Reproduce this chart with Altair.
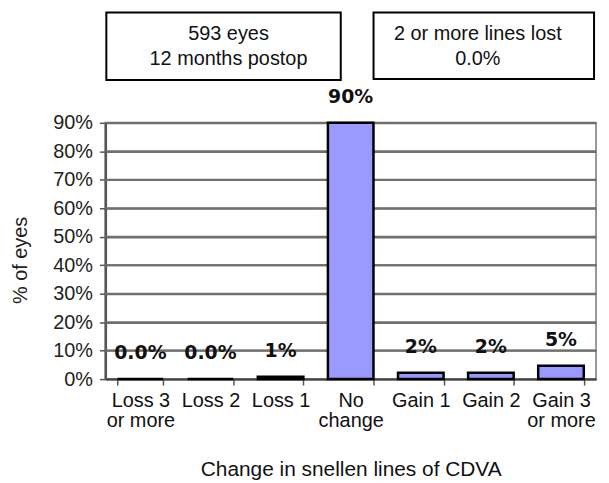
import altair as alt
import pandas as pd

categories = ["Loss 3|or more", "Loss 2", "Loss 1", "No|change", "Gain 1", "Gain 2", "Gain 3|or more"]
values = [0.0, 0.0, 0.8, 90.0, 2.2, 2.2, 4.7]
value_labels = ["0.0%", "0.0%", "1%", "90%", "2%", "2%", "5%"]
y_ticks = [0, 10, 20, 30, 40, 50, 60, 70, 80, 90]
box_texts = ["593 eyes\n12 months postop", "2 or more lines lost\n0.0%"]

df = pd.DataFrame({"cat": categories, "val": values, "lab": value_labels})
grid_df = pd.DataFrame({"g": y_ticks[1:]})

FONT = "Liberation Sans"
FS = 20
W, H = 494, 258

x_enc = alt.X(
    "cat:N",
    sort=categories,
    scale=alt.Scale(paddingInner=0.35, paddingOuter=0.175),
    axis=alt.Axis(
        title="Change in snellen lines of CDVA",
        labelExpr="split(datum.label, '|')",
        labelAngle=0,
        labelFont=FONT,
        labelFontSize=FS,
        labelColor="#111",
        labelLineHeight=20,
        labelPadding=6,
        labelBaseline="top",
        tickBand="extent",
        tickSize=6,
        tickColor="#555",
        tickWidth=1.5,
        domainColor="#444",
        domainWidth=2,
        titleFont=FONT,
        titleFontSize=21,
        titleFontWeight="normal",
        titleColor="#111",
        titleY=91,
        titleBaseline="middle",
    ),
)

y_axis = alt.Axis(
    title="% of eyes",
    values=y_ticks,
    labelExpr="datum.value + '%'",
    labelOverlap=False,
    labelFlush=False,
    labelFont=FONT,
    labelFontSize=FS,
    labelColor="#222",
    labelPadding=7,
    tickSize=6,
    tickColor="#555",
    tickWidth=1.5,
    domainColor="#555",
    domainWidth=2.5,
    grid=True,
    gridColor="#6f6f6f",
    gridWidth=2,
    gridOpacity=1,
    titleFont=FONT,
    titleFontSize=FS,
    titleFontWeight="normal",
    titleColor="#222",
    titleX=-85,
    titleY=138,
    titleAngle=-90,
    titleAlign="center",
    titleBaseline="middle",
)
y_scale = alt.Scale(domain=[0, 90], nice=False)
y_enc = alt.Y("val:Q", scale=y_scale, axis=y_axis)

grid = alt.Chart(grid_df).mark_rule(color="#6f6f6f", strokeWidth=2, opacity=1).encode(
    y=alt.Y("g:Q", scale=y_scale, axis=y_axis),
    x=alt.value(0),
    x2=alt.value(W),
)

bars = alt.Chart(df).mark_bar(
    color="#9999FF", stroke="black", strokeWidth=2.5
).encode(x=x_enc, y=y_enc)

labels = alt.Chart(df).mark_text(
    font="DejaVu Sans", fontWeight="bold", fontSize=19, baseline="middle", dy=-26, color="#111"
).encode(x=x_enc, y=y_enc, text="lab:N")

box_df = pd.DataFrame({"t": ["box"]})
box1 = alt.Chart(box_df).mark_rect(fill="white", stroke="black", strokeWidth=2).encode(
    x=alt.value(1), x2=alt.value(237), y=alt.value(-111), y2=alt.value(-43)
)
box2 = alt.Chart(box_df).mark_rect(fill="white", stroke="black", strokeWidth=2).encode(
    x=alt.value(270), x2=alt.value(492), y=alt.value(-111), y2=alt.value(-44)
)
txt1 = alt.Chart(box_df).mark_text(
    font=FONT, fontSize=FS, lineBreak="\n", lineHeight=25, baseline="middle", color="#111"
).encode(x=alt.value(124), y=alt.value(-89), text=alt.value(box_texts[0]))
txt2 = alt.Chart(box_df).mark_text(
    font=FONT, fontSize=FS, lineBreak="\n", lineHeight=25, baseline="middle", color="#111"
).encode(x=alt.value(375), y=alt.value(-89), text=alt.value(box_texts[1]))

chart = alt.layer(grid, bars, labels, box1, box2, txt1, txt2).properties(
    width=W,
    height=H,
    autosize=alt.AutoSizeParams(type="none"),
    padding={"left": 98, "top": 114, "right": 5, "bottom": 100},
    background="white",
).configure_view(stroke="#777", strokeWidth=1.5)

chart.save("out.html", embed_options={"renderer": "svg", "actions": False})
